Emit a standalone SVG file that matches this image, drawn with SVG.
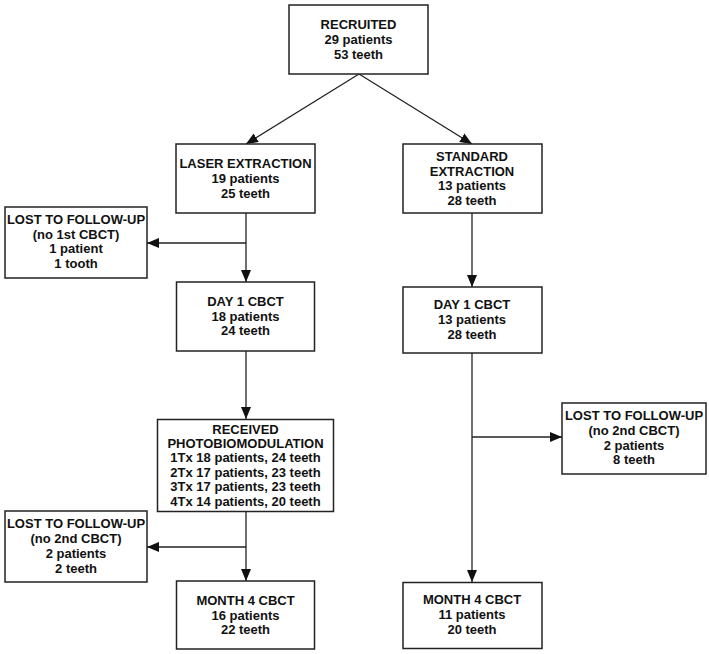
<svg xmlns="http://www.w3.org/2000/svg" width="709" height="654" viewBox="0 0 709 654">
<style>
.box{fill:#fff;stroke:#222;stroke-width:1.5}
.t{font-family:"Liberation Sans",Arial,sans-serif;font-weight:bold;font-size:13px;fill:#111;text-anchor:middle}
.c{stroke:#222;stroke-width:1.3;fill:none}
</style>
<defs>
<marker id="ah" markerWidth="12" markerHeight="10" refX="12" refY="5" orient="auto" markerUnits="userSpaceOnUse">
<path d="M0,0 L12,5 L0,10 Z" fill="#111"/>
</marker>
</defs>
<rect width="709" height="654" fill="#fff"/>
<g id="connectors">
<path class="c" d="M359,74 L246,144" marker-end="url(#ah)"/>
<path class="c" d="M359,74 L472,144" marker-end="url(#ah)"/>
<path class="c" d="M246,213 L246,282" marker-end="url(#ah)"/>
<path class="c" d="M246,243 L147,243" marker-end="url(#ah)"/>
<path class="c" d="M472,213 L472,287" marker-end="url(#ah)"/>
<path class="c" d="M246,351 L246,419" marker-end="url(#ah)"/>
<path class="c" d="M472,353 L472,582" marker-end="url(#ah)"/>
<path class="c" d="M472,437 L562,437" marker-end="url(#ah)"/>
<path class="c" d="M246,512 L246,581" marker-end="url(#ah)"/>
<path class="c" d="M246,547 L147,547" marker-end="url(#ah)"/>
</g>
<g id="recruited">
<rect class="box" x="289" y="5" width="139" height="69"/>
<text class="t" x="358.5" y="29">RECRUITED</text>
<text class="t" x="358.5" y="44">29 patients</text>
<text class="t" x="358.5" y="59">53 teeth</text>
</g>
<g id="laser">
<rect class="box" x="176" y="144" width="139" height="69"/>
<text class="t" x="245.5" y="168">LASER EXTRACTION</text>
<text class="t" x="245.5" y="183">19 patients</text>
<text class="t" x="245.5" y="198">25 teeth</text>
</g>
<g id="standard">
<rect class="box" x="403" y="144" width="139" height="69"/>
<text class="t" x="472" y="161">STANDARD</text>
<text class="t" x="472" y="176">EXTRACTION</text>
<text class="t" x="472" y="190">13 patients</text>
<text class="t" x="472" y="205">28 teeth</text>
</g>
<g id="lost1">
<rect class="box" x="5" y="207" width="142" height="71"/>
<text class="t" x="76" y="224">LOST TO FOLLOW-UP</text>
<text class="t" x="76" y="239">(no 1st CBCT)</text>
<text class="t" x="76" y="253">1 patient</text>
<text class="t" x="76" y="268">1 tooth</text>
</g>
<g id="day1-laser">
<rect class="box" x="176.5" y="282" width="138" height="69"/>
<text class="t" x="245.5" y="306">DAY 1 CBCT</text>
<text class="t" x="245.5" y="321">18 patients</text>
<text class="t" x="245.5" y="335">24 teeth</text>
</g>
<g id="day1-standard">
<rect class="box" x="403" y="287" width="139" height="66"/>
<text class="t" x="472" y="309">DAY 1 CBCT</text>
<text class="t" x="472" y="324">13 patients</text>
<text class="t" x="472" y="339">28 teeth</text>
</g>
<g id="photobiomodulation">
<rect class="box" x="157.5" y="419.5" width="176" height="92"/>
<text class="t" x="245.5" y="434">RECEIVED</text>
<text class="t" x="245.5" y="447.5">PHOTOBIOMODULATION</text>
<text class="t" x="245.5" y="462">1Tx 18 patients, 24 teeth</text>
<text class="t" x="245.5" y="477">2Tx 17 patients, 23 teeth</text>
<text class="t" x="245.5" y="491">3Tx 17 patients, 23 teeth</text>
<text class="t" x="245.5" y="506">4Tx 14 patients, 20 teeth</text>
</g>
<g id="lost3">
<rect class="box" x="562" y="403" width="144" height="71"/>
<text class="t" x="634" y="420">LOST TO FOLLOW-UP</text>
<text class="t" x="634" y="435">(no 2nd CBCT)</text>
<text class="t" x="634" y="450">2 patients</text>
<text class="t" x="634" y="464">8 teeth</text>
</g>
<g id="lost2">
<rect class="box" x="5" y="511" width="142" height="71"/>
<text class="t" x="76" y="528">LOST TO FOLLOW-UP</text>
<text class="t" x="76" y="543">(no 2nd CBCT)</text>
<text class="t" x="76" y="558">2 patients</text>
<text class="t" x="76" y="573">2 teeth</text>
</g>
<g id="month4-laser">
<rect class="box" x="176.5" y="581" width="138" height="68"/>
<text class="t" x="245.5" y="605">MONTH 4 CBCT</text>
<text class="t" x="245.5" y="620">16 patients</text>
<text class="t" x="245.5" y="634">22 teeth</text>
</g>
<g id="month4-standard">
<rect class="box" x="403" y="582.5" width="139" height="66"/>
<text class="t" x="472" y="604">MONTH 4 CBCT</text>
<text class="t" x="472" y="619">11 patients</text>
<text class="t" x="472" y="634">20 teeth</text>
</g>
</svg>
